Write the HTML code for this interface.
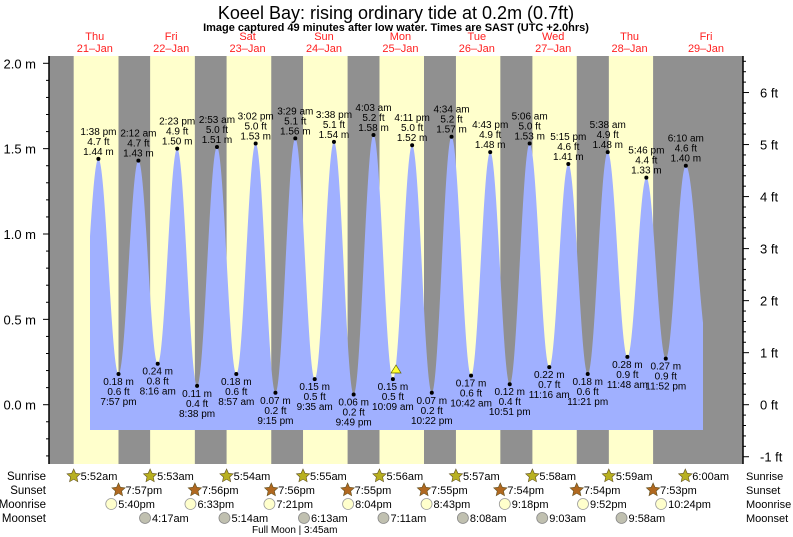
<!DOCTYPE html>
<html><head><meta charset="utf-8"><style>
html,body{margin:0;padding:0;background:#fff}
svg{display:block;font-family:"Liberation Sans",Arial,sans-serif}
</style></head><body>
<svg id="s" width="793" height="537" xmlns="http://www.w3.org/2000/svg"></svg>
<script>
const S=document.getElementById('s');let h='';
const W=76.4,X0=55,T=56,B=464,L=49,R=743;
const xt=(d,t)=>X0+(d+t/24)*W;
const yh=m=>404.7-170.7*m;
h+=`<rect x="${L}" y="${T}" width="${R-L}" height="${B-T}" fill="#909090"/>`;
const sr=[5+52/60,5+53/60,5+54/60,5+55/60,5+56/60,5+57/60,5+58/60,5+59/60,6];
const ss=[19+57/60,19+56/60,19+56/60,19+55/60,19+55/60,19+54/60,19+54/60,19+53/60];
for(let d=0;d<8;d++){const a=xt(d,sr[d]),b=xt(d,ss[d]);h+=`<rect x="${a}" y="${T}" width="${b-a}" height="${B-T}" fill="#ffffcc"/>`;}
const E=[[0,7.3,0.22],[0,13+38/60,1.44,'1:38 pm'],[0,19+57/60,0.18,'7:57 pm'],[1,2+12/60,1.43,'2:12 am'],[1,8+16/60,0.24,'8:16 am'],[1,14+23/60,1.50,'2:23 pm'],[1,20+38/60,0.11,'8:38 pm'],[2,2+53/60,1.51,'2:53 am'],[2,8+57/60,0.18,'8:57 am'],[2,15+2/60,1.53,'3:02 pm'],[2,21+15/60,0.07,'9:15 pm'],[3,3+29/60,1.56,'3:29 am'],[3,9+35/60,0.15,'9:35 am'],[3,15+38/60,1.54,'3:38 pm'],[3,21+49/60,0.06,'9:49 pm'],[4,4+3/60,1.58,'4:03 am'],[4,10+9/60,0.15,'10:09 am'],[4,16+11/60,1.52,'4:11 pm'],[4,22+22/60,0.07,'10:22 pm'],[5,4+34/60,1.57,'4:34 am'],[5,10+42/60,0.17,'10:42 am'],[5,16+43/60,1.48,'4:43 pm'],[5,22+51/60,0.12,'10:51 pm'],[6,5+6/60,1.53,'5:06 am'],[6,11+16/60,0.22,'11:16 am'],[6,17+15/60,1.41,'5:15 pm'],[6,23+21/60,0.18,'11:21 pm'],[7,5+38/60,1.48,'5:38 am'],[7,11+48/60,0.28,'11:48 am'],[7,17+46/60,1.33,'5:46 pm'],[7,23+52/60,0.27,'11:52 pm'],[8,6+10/60,1.40,'6:10 am'],[8,13.5,0.3]];
const P=E.map(e=>[xt(e[0],e[1]),e[2]]);
let pts=[];
for(let x=90;x<=703;x+=0.5){let i=0;while(i<P.length-2&&P[i+1][0]<x)i++;const[a,ha]=P[i],[b,hb]=P[i+1];const f=(x-a)/(b-a);const m=ha+(hb-ha)*(1-Math.cos(Math.PI*f))/2;pts.push(x.toFixed(1)+','+yh(m).toFixed(1));}
h+=`<polygon points="90,430 ${pts.join(' ')} 703,430" fill="#a0b0ff"/>`;
E.forEach((e,i)=>{if(!e[3])return;const x=xt(e[0],e[1]),y=yh(e[2]);const ft=(e[2]/0.3048).toFixed(1);
h+=`<circle cx="${x}" cy="${y}" r="2" fill="#000"/>`;
const tx=(s,yy)=>h+=`<text x="${x}" y="${yy}" font-size="10" text-anchor="middle" fill="#000">${s}</text>`;
if(e[2]>1){tx(e[2].toFixed(2)+' m',y-4);tx(ft+' ft',y-14);tx(e[3],y-24);}else{tx(e[2].toFixed(2)+' m',y+11);tx(ft+' ft',y+21);tx(e[3],y+31);}});
h+=`<polygon points="396,365 391,373 401,373" fill="#ffff30" stroke="#606000" stroke-width="0.7"/>`;
h+=`<line x1="${L}" y1="${T}" x2="${L}" y2="${B}" stroke="#000" stroke-width="1.5"/><line x1="${R}" y1="${T}" x2="${R}" y2="${B}" stroke="#000" stroke-width="1.5"/>`;
for(let k=-3;k<=20;k++){const y=yh(k/10);if(y<T||y>B)continue;const big=k%5==0;h+=`<line x1="${L-(big?6:3)}" y1="${y}" x2="${L}" y2="${y}" stroke="#000"/>`;if(big)h+=`<text x="36" y="${y+5}" font-size="13" text-anchor="end">${(k/10).toFixed(1)} m</text>`;}
for(let k=-5;k<=33;k++){const y=404.7-k/5*52.03;if(y<T||y>B)continue;const big=k%5==0;h+=`<line x1="${R}" y1="${y}" x2="${R+(big?6:3)}" y2="${y}" stroke="#000"/>`;if(big)h+=`<text x="760" y="${y+5}" font-size="13">${k/5} ft</text>`;}
h+=`<text x="396" y="19" font-size="18" text-anchor="middle">Koeel Bay: rising  ordinary tide at 0.2m (0.7ft)</text>`;
h+=`<text x="396" y="31" font-size="11" font-weight="bold" text-anchor="middle">Image captured 49 minutes after low water. Times are SAST (UTC +2.0hrs)</text>`;
const dn=['Thu','Fri','Sat','Sun','Mon','Tue','Wed','Thu','Fri'];
dn.forEach((n,d)=>{const x=xt(d,12.5);h+=`<text x="${x}" y="40" font-size="11" fill="#ff2020" text-anchor="middle">${n}</text><text x="${x}" y="52" font-size="11" fill="#ff2020" text-anchor="middle">${21+d}&#8211;Jan</text>`;});
const rows=[['Sunrise',476],['Sunset',490],['Moonrise',504],['Moonset',518]];
rows.forEach(r=>{h+=`<text x="46" y="${r[1]+4}" font-size="11.5" text-anchor="end">${r[0]}</text><text x="746" y="${r[1]+4}" font-size="11">${r[0]}</text>`;});
const star=(cx,cy,f)=>{let p=[];for(let i=0;i<10;i++){const r=i%2?3.3:7,a=-Math.PI/2+i*Math.PI/5;p.push((cx+r*Math.cos(a)).toFixed(1)+','+(cy+r*Math.sin(a)).toFixed(1));}h+=`<polygon points="${p.join(' ')}" fill="${f}" stroke="#605020" stroke-width="0.6"/>`;};
const lab=(x,y,s)=>h+=`<text x="${x+7}" y="${y+4}" font-size="11">${s}</text>`;
const fmt=t=>{let H=Math.floor(t+1e-6),M=Math.round((t-H)*60);const ap=H>=12?'pm':'am';H=H%12||12;return H+':'+String(M).padStart(2,'0')+ap;};
sr.forEach((t,d)=>{const x=xt(d,t);star(x,476,'#b8b020');lab(x,476,fmt(t));});
ss.forEach((t,d)=>{const x=xt(d,t);star(x,490,'#b06820');lab(x,490,fmt(t));});
const mr=[17+40/60,18+33/60,19+21/60,20+4/60,20+43/60,21+18/60,21+52/60,22+24/60];
mr.forEach((t,d)=>{const x=xt(d,t);h+=`<circle cx="${x}" cy="${504}" r="5.5" fill="#ffffcc" stroke="#999" stroke-width="0.8"/>`;lab(x,504,fmt(t));});
const ms=[4+17/60,5+14/60,6+13/60,7+11/60,8+8/60,9+3/60,9+58/60];
ms.forEach((t,i)=>{const x=xt(i+1,t);h+=`<circle cx="${x}" cy="${518}" r="5.5" fill="#c0c0b0" stroke="#888" stroke-width="0.8"/>`;lab(x,518,fmt(t));});
h+=`<text x="252" y="533" font-size="10">Full Moon | 3:45am</text>`;
S.innerHTML=h;
</script>
</body></html>
